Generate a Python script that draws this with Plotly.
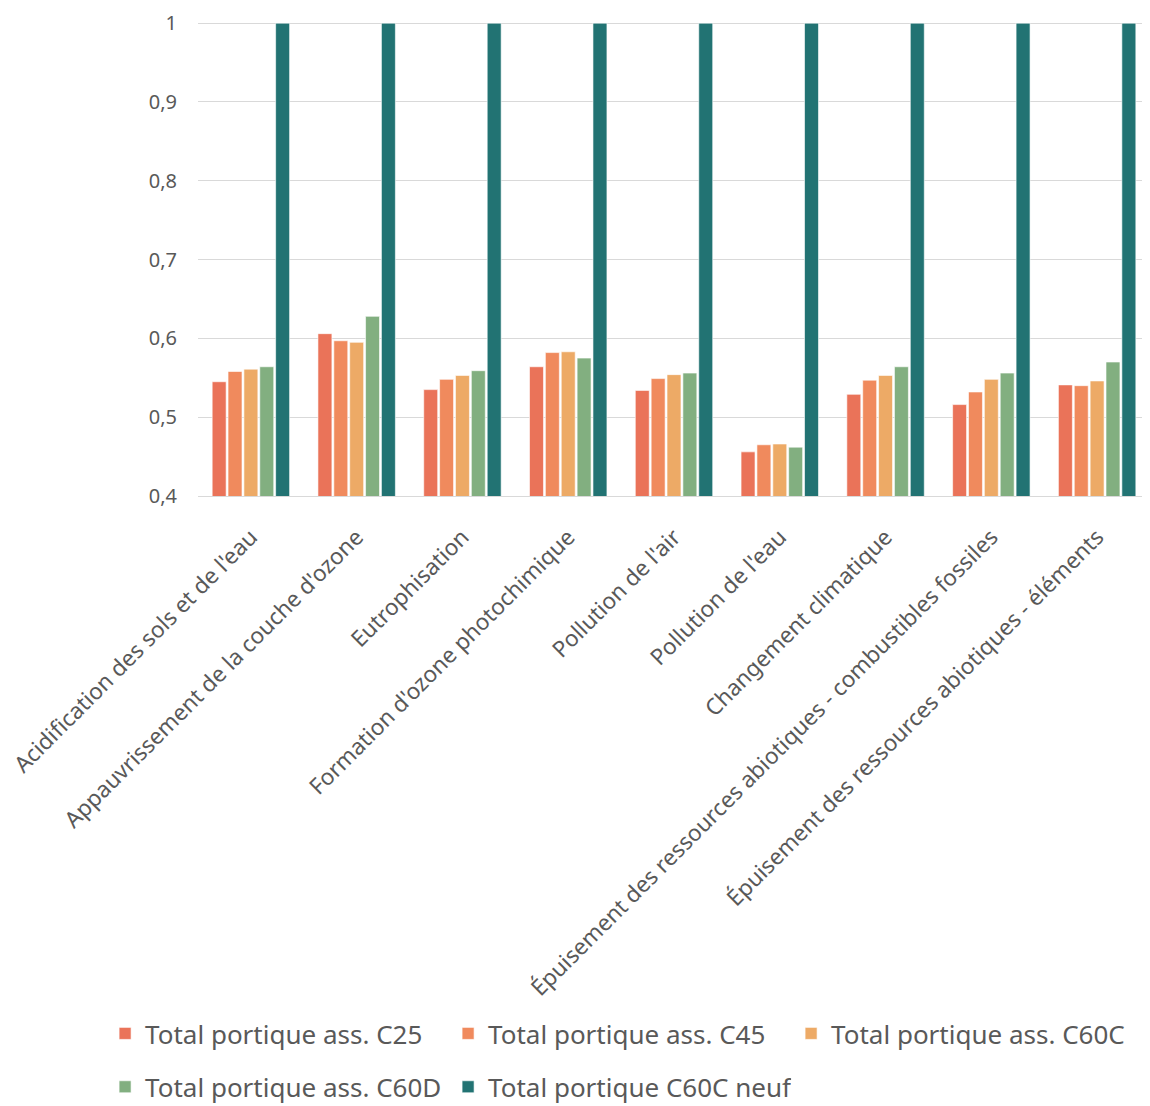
import plotly.graph_objects as go

categories = [
    "Acidification des sols et de l'eau",
    "Appauvrissement de la couche d'ozone",
    "Eutrophisation",
    "Formation d'ozone photochimique",
    "Pollution de l'air",
    "Pollution de l'eau",
    "Changement climatique",
    "Épuisement des ressources abiotiques - combustibles fossiles",
    "Épuisement des ressources abiotiques - éléments",
]

series_names = [
    "Total portique ass. C25",
    "Total portique ass. C45",
    "Total portique ass. C60C",
    "Total portique ass. C60D",
    "Total portique C60C neuf",
]

c25 = [0.545, 0.606, 0.535, 0.564, 0.534, 0.456, 0.529, 0.516, 0.541]
c45 = [0.558, 0.597, 0.548, 0.582, 0.549, 0.465, 0.547, 0.532, 0.540]
c60c = [0.561, 0.595, 0.553, 0.583, 0.554, 0.466, 0.553, 0.548, 0.546]
c60d = [0.564, 0.628, 0.559, 0.575, 0.556, 0.462, 0.564, 0.556, 0.570]
c60c_neuf = [1, 1, 1, 1, 1, 1, 1, 1, 1]

colors = ["#EA7359", "#F08A5D", "#EDAA66", "#82AF80", "#227373"]
legend_ids = ["legend", "legend", "legend", "legend2", "legend2"]

y_tickvals = [0.4, 0.5, 0.6, 0.7, 0.8, 0.9, 1.0]
y_ticktext = ["0,4", "0,5", "0,6", "0,7", "0,8", "0,9", "1"]

all_series = [c25, c45, c60c, c60d, c60c_neuf]

fig = go.Figure()
for name, vals, col, lg in zip(series_names, all_series, colors, legend_ids):
    fig.add_trace(go.Bar(
        x=categories, y=vals, name=name, legend=lg,
        marker=dict(color=col, line=dict(color="rgba(255,255,255,0.6)", width=1)),
    ))

font_family = "Noto Sans, Open Sans, sans-serif"
legend_common = dict(
    orientation="h", xanchor="left", yanchor="top",
    font=dict(size=26, color="#595959", family=font_family),
    entrywidth=298, entrywidthmode="pixels",
    itemwidth=30, tracegroupgap=0, bgcolor="rgba(0,0,0,0)",
)
# page body has an 8px default margin, so the figure is offset by 8px
fig.update_layout(
    width=1142, height=1098,
    margin=dict(l=190, r=0, t=14, b=610, autoexpand=False),
    paper_bgcolor="white", plot_bgcolor="white",
    barmode="group", bargap=0.25, bargroupgap=0.12,
    font=dict(family=font_family, color="#595959", size=17),
    showlegend=True,
    legend=dict(x=-0.0976, y=-1.0844, **legend_common),
    legend2=dict(x=-0.0976, y=-1.197, **legend_common),
)
fig.update_yaxes(
    range=[0.4, 1.0015], tickvals=y_tickvals, ticktext=y_ticktext,
    showgrid=True, gridcolor="#D9D9D9", gridwidth=1,
    zeroline=False, showline=False, ticklabelstandoff=20, automargin=False,
    ticklabeloverflow="allow",
    tickfont=dict(size=20, color="#595959"),
)
fig.update_xaxes(
    tickangle=-45, showline=True, linecolor="#D9D9D9", linewidth=1,
    showgrid=False, ticklabelstandoff=18, automargin=False,
    tickfont=dict(size=22.5, color="#595959"),
)

fig.write_html("out.html")
